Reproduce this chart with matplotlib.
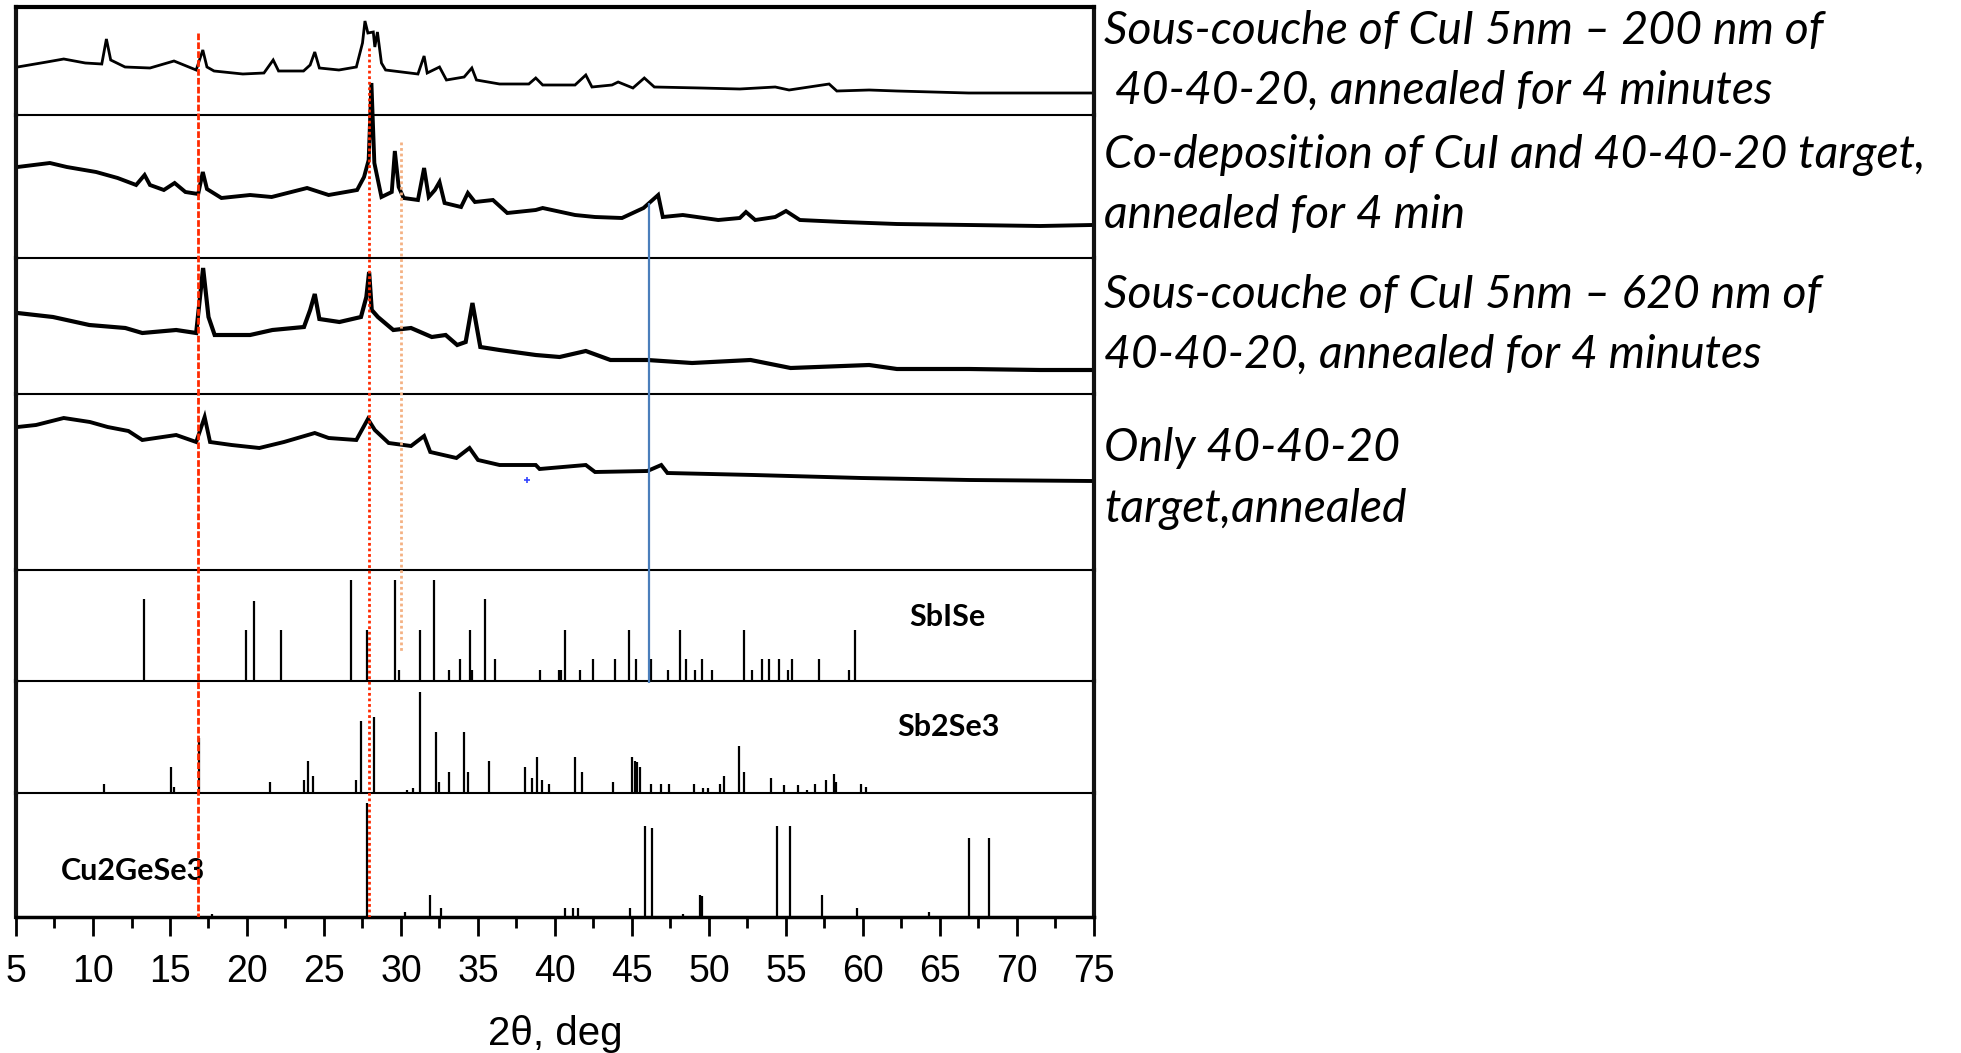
import matplotlib
matplotlib.use('Agg')
import matplotlib.pyplot as plt
from matplotlib.ticker import MultipleLocator

plt.rcParams['font.family'] = ['Liberation Sans Narrow', 'Liberation Sans', 'DejaVu Sans']

# measured patterns: 2theta / intensity (arb. units)
tt_a = [5.1, 7.0, 8.1, 9.5, 10.57, 10.87, 11.15, 12.08, 13.7, 15.26, 16.7, 17.13, 17.4, 17.86,
        19.73, 21.1, 21.7, 22.05, 23.67, 24.1, 24.4, 24.7, 25.97, 27.1, 27.5, 27.66, 27.85,
        28.2, 28.3, 28.47, 28.73, 29.0, 31.1, 31.5, 31.7, 32.5, 32.95, 34.1, 34.6, 34.9, 36.4,
        38.3, 38.75, 39.2, 41.3, 42.0, 42.4, 43.7, 44.1, 45.06, 45.8, 46.45, 49.46, 52.0, 54.3,
        55.2, 57.8, 58.3, 60.4, 62.2, 66.86, 71.5, 74.85]
int_a = [48, 53, 56, 52, 51, 76, 55, 48, 47, 54, 45, 65, 48, 44,
         41, 42, 55, 44, 44, 50, 63, 47, 45, 48, 72, 94, 82,
         83, 68, 83, 52, 45, 41, 59, 42, 48, 35, 38, 47, 35, 31,
         31, 37, 30, 30, 40, 28, 30, 33, 27, 37, 28, 27, 26, 28,
         25, 31, 24, 25, 24, 22, 22, 22]

tt_b = [5.1, 7.2, 8.3, 10.2, 11.6, 12.8, 13.35, 13.7, 14.6, 15.3, 16.0, 16.83, 17.13, 17.4,
        18.34, 20.2, 21.6, 23.9, 25.3, 27.15, 27.6, 27.9, 28.08, 28.27, 28.73, 29.4, 29.6,
        29.85, 30.17, 31.1, 31.5, 31.8, 32.2, 32.5, 32.83, 33.9, 34.34, 34.8, 35.97, 36.9,
        38.75, 39.2, 41.3, 42.6, 44.35, 45.75, 46.7, 47.0, 48.3, 50.6, 52.0, 52.4, 53.0,
        54.3, 55.0, 55.9, 58.7, 62.2, 66.9, 71.5, 74.85]
int_b = [91, 95, 91, 86, 80, 73, 83, 73, 68, 75, 66, 64, 86, 69,
         60, 63, 61, 70, 63, 68, 81, 98, 175, 95, 61, 66, 107,
         71, 60, 58, 90, 61, 68, 76, 55, 51, 65, 56, 58, 45,
         48, 50, 43, 41, 40, 50, 63, 41, 43, 38, 40, 46, 38,
         41, 47, 38, 36, 34, 33, 32, 33]

tt_c = [5.1, 7.4, 9.76, 12.1, 13.2, 15.4, 16.7, 17.15, 17.5, 17.9, 20.2, 21.65, 23.7, 24.1,
        24.4, 24.7, 26.0, 27.4, 27.75, 27.93, 28.1, 28.5, 29.5, 30.65, 32.0, 32.9, 33.65,
        34.2, 34.64, 35.15, 36.4, 38.75, 40.3, 42.0, 43.6, 46.0, 48.9, 52.7, 55.3, 60.4,
        62.2, 66.9, 71.5, 74.85]
int_c = [81, 77, 69, 66, 61, 64, 61, 126, 77, 59, 59, 64, 67, 84,
         100, 75, 72, 77, 97, 122, 84, 77, 64, 66, 57, 59, 49,
         52, 91, 47, 44, 39, 37, 43, 34, 34, 31, 34, 26, 29,
         25, 25, 24, 24]

tt_d = [5.1, 6.3, 8.1, 9.8, 10.95, 12.3, 13.2, 15.4, 16.7, 17.25, 17.6, 19.0, 20.8, 22.4,
        24.4, 25.3, 27.1, 27.85, 28.3, 29.2, 30.65, 31.5, 31.9, 33.6, 34.45, 35.0, 36.4,
        38.75, 39.0, 42.0, 42.6, 46.0, 46.9, 47.3, 52.9, 59.9, 66.9, 74.85]
int_d = [143, 145, 152, 148, 143, 139, 130, 135, 128, 153, 128, 125, 122, 128,
         137, 132, 130, 151, 140, 127, 124, 134, 118, 112, 122, 110, 105,
         105, 101, 105, 98, 99, 105, 97, 95, 92, 90, 89]

# reference stick patterns
sbise_tt = [13.33, 19.92, 20.47, 22.19, 26.76, 27.8, 29.59, 29.89, 31.21, 32.16, 33.13, 33.8,
            34.48, 34.6, 35.43, 36.13, 39.0, 40.28, 40.4, 40.65, 41.6, 42.46, 43.92, 44.82,
            45.29, 46.26, 47.33, 48.14, 48.53, 49.09, 49.53, 50.2, 52.25, 52.8, 53.45, 53.87,
            54.57, 55.1, 55.4, 57.16, 59.08, 59.48]
sbise_int = [82, 51, 80, 51, 101, 51, 101, 11, 51, 101, 11, 22,
             51, 11, 82, 22, 11, 11, 11, 51, 11, 22, 22, 51,
             22, 22, 11, 51, 22, 11, 22, 11, 51, 11, 22, 22,
             22, 11, 22, 22, 11, 51]

sb2se3_tt = [10.73, 15.09, 15.23, 16.88, 21.52, 23.7, 23.97, 24.28, 27.1, 27.38, 28.22, 30.4,
             30.8, 31.21, 32.3, 32.44, 33.13, 34.11, 34.36, 35.73, 38.05, 38.51, 38.86, 39.16,
             39.6, 41.3, 41.76, 43.78, 45.0, 45.17, 45.3, 45.5, 46.26, 46.9, 47.42, 49.0,
             49.58, 49.93, 50.74, 51.0, 51.97, 52.25, 54.0, 54.85, 55.8, 56.37, 56.9, 57.58,
             58.1, 58.23, 59.9, 60.18]
sb2se3_int = [9, 26, 6, 55, 11, 13, 32, 17, 13, 72, 76, 3,
              5, 101, 61, 11, 21, 61, 21, 32, 26, 15, 36, 13,
              9, 36, 21, 11, 36, 32, 31, 26, 9, 9, 9, 9,
              5, 5, 9, 17, 47, 21, 15, 8, 8, 3, 9, 13,
              19, 11, 9, 6]

cgs_tt = [17.71, 27.78, 30.23, 31.9, 32.6, 40.65, 41.18, 41.5, 44.87, 45.82, 46.33, 48.3,
          49.39, 49.53, 54.42, 55.23, 57.32, 59.62, 64.26, 66.86, 68.2]
cgs_int = [3, 114, 5, 22, 9, 9, 9, 9, 9, 91, 89, 3,
           22, 21, 91, 91, 22, 9, 5, 79, 79]

# guide lines (2theta)
guide_tt = [16.85, 27.95, 30.0, 46.1]

sample_labels = ["Sous-couche of CuI 5nm \u2013 200 nm of",
                 " 40-40-20, annealed for 4 minutes",
                 "Co-deposition of CuI and 40-40-20 target,",
                 "annealed for 4 min",
                 "Sous-couche of CuI 5nm \u2013 620 nm of",
                 "40-40-20, annealed for 4 minutes",
                 "Only 40-40-20",
                 "target,annealed"]
phase_labels = ["SbISe", "Sb2Se3", "Cu2GeSe3"]

W, H = 1961, 1053
fig = plt.figure(figsize=(W / 100, H / 100), dpi=100)
fig.patch.set_facecolor('white')

L, R = 16, 1094
edges = [7, 115, 258, 394, 570, 681, 793, 917]
heights = [108, 143, 136, 176, 111, 112, 124]

axes = []
for k in range(7):
    top, bot = edges[k], edges[k + 1]
    ax = fig.add_axes([L / W, 1 - bot / H, (R - L) / W, (bot - top) / H])
    ax.set_xlim(5, 75)
    ax.set_ylim(0, heights[k])
    ax.set_yticks([])
    ax.set_xticks([])
    ax.patch.set_alpha(0)
    for s in ['left', 'right']:
        ax.spines[s].set_linewidth(3)
        ax.spines[s].set_color('#111111')
    ax.spines['top'].set_visible(k == 0)
    ax.spines['top'].set_linewidth(3)
    ax.spines['bottom'].set_linewidth(1.5)
    axes.append(ax)

trace_lw = [2.0, 2.8, 3.0, 2.8]
for ax, tt, ii, lw in zip(axes[:4], [tt_a, tt_b, tt_c, tt_d], [int_a, int_b, int_c, int_d], trace_lw):
    ax.plot(tt, ii, color='black', lw=lw, clip_on=False, solid_joinstyle='miter')

axes[3].plot(38.2, 90, marker='+', color='#3344ff', ms=5, mew=1.2)

for ax, tt, ii in zip(axes[4:], [sbise_tt, sb2se3_tt, cgs_tt], [sbise_int, sb2se3_int, cgs_int]):
    ax.vlines(tt, 0, ii, color='black', lw=1.6)

lab_font = dict(family=['Lato', 'DejaVu Sans'], fontweight='bold', fontsize=22)
axes[4].text(0.864, 0.577, phase_labels[0], transform=axes[4].transAxes, ha='center', va='center', **lab_font)
axes[5].text(0.865, 0.589, phase_labels[1], transform=axes[5].transAxes, ha='center', va='center', **lab_font)
axes[6].text(0.1085, 0.371, phase_labels[2], transform=axes[6].transAxes, ha='center', va='center', **lab_font)

bx = axes[6]
bx.spines['bottom'].set_linewidth(2.5)
bx.set_xticks(range(5, 80, 5))
bx.xaxis.set_minor_locator(MultipleLocator(2.5))
bx.tick_params(axis='x', which='major', direction='out', length=14, width=2, pad=13, labelsize=27)
bx.tick_params(axis='x', which='minor', direction='out', length=8, width=2)
bx.set_xlabel('2\u03b8, deg', fontsize=29)
bx.xaxis.set_label_coords(0.5, -0.79)

# overlay for guide lines spanning several panels (y in pixels)
ov = fig.add_axes([L / W, 1 - 917 / H, (R - L) / W, (917 - 7) / H])
ov.set_xlim(5, 75)
ov.set_ylim(917, 7)
ov.axis('off')
ov.patch.set_alpha(0)
ov.vlines(guide_tt[0], 33, 917, color='#ff2a00', lw=2, linestyles=[(0, (2.4, 0.8))])
ov.vlines(guide_tt[1], 48, 917, color='#ff2a00', lw=2, linestyles=[(0, (1, 1))])
ov.vlines(guide_tt[2], 142, 652, color='#f4b183', lw=2, linestyles=[(0, (1, 1))])
ov.vlines(guide_tt[3], 203, 683, color='#4a7ebb', lw=1.6)

text_y = [31, 91, 155, 215, 295, 355, 448, 509]
for s, y in zip(sample_labels, text_y):
    fig.text(1104 / W, 1 - y / H, s, ha='left', va='center', fontsize=33.3,
             family=['Lato', 'DejaVu Sans'], style='italic')

fig.savefig('out.png', dpi=100, facecolor='white')
